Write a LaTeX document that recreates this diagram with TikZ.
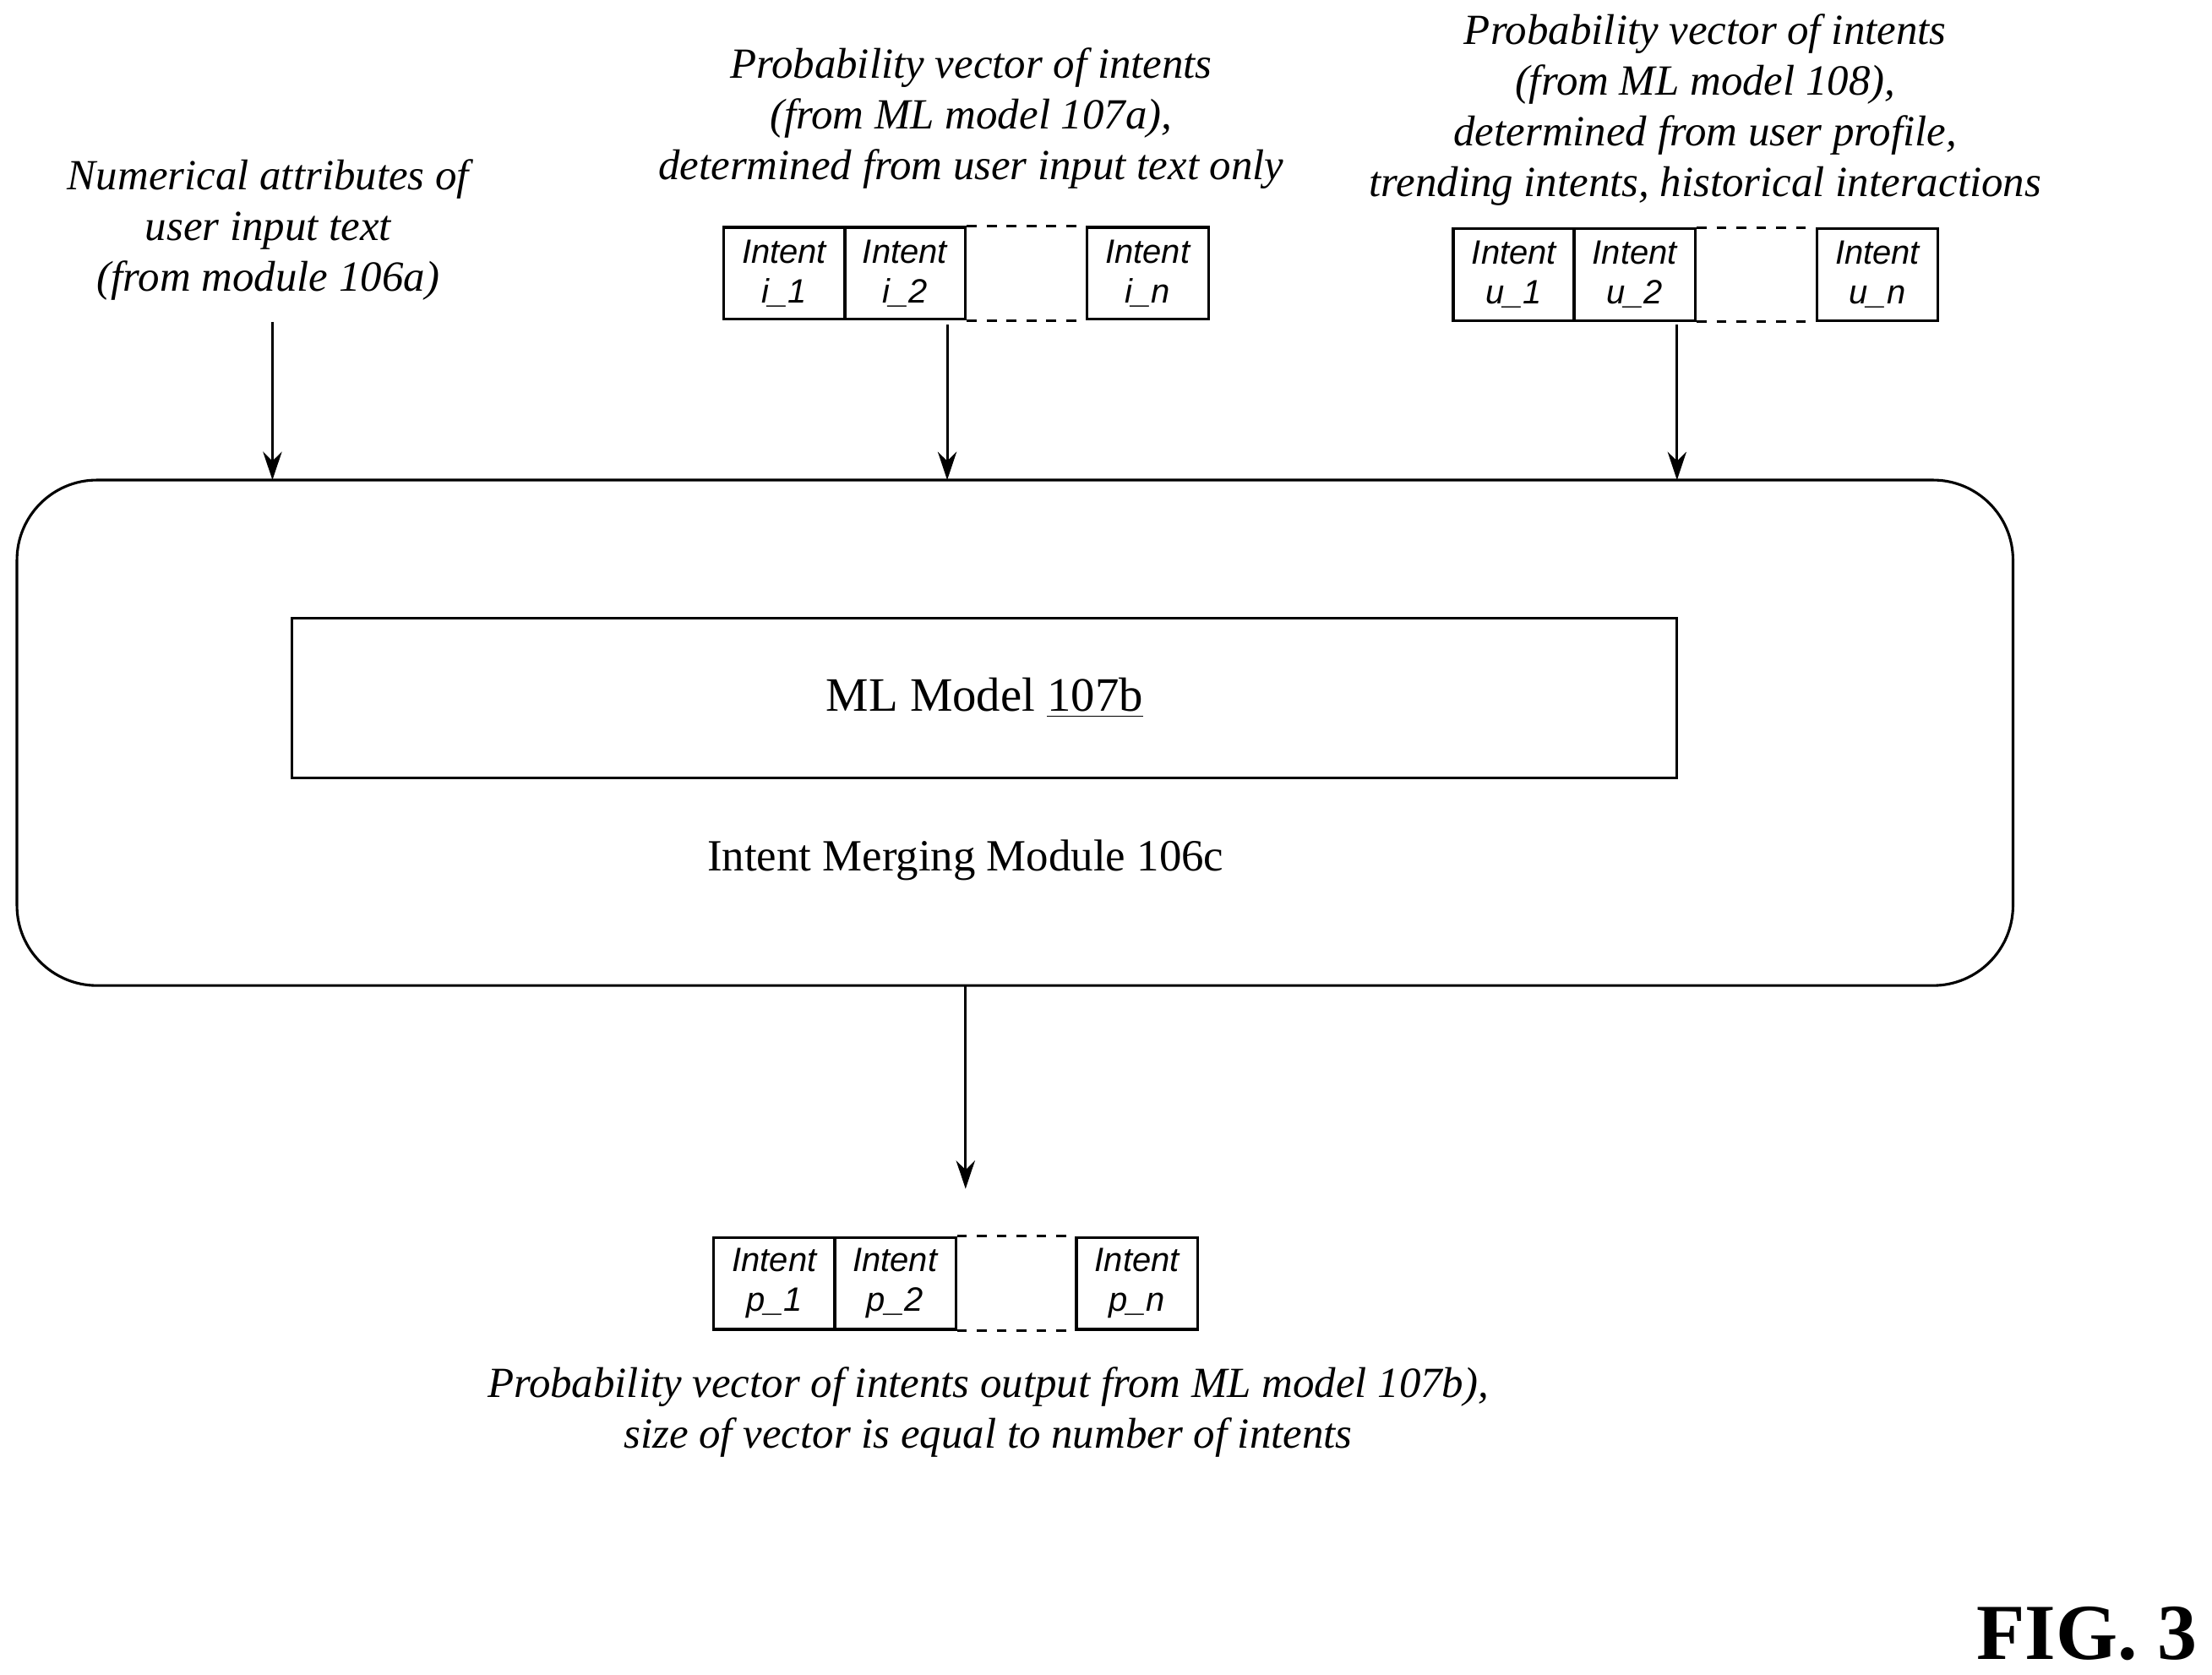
\documentclass[tikz,border=0pt]{standalone}
\usepackage{fontspec}
\setmainfont{Liberation Serif}
\newfontfamily\boxfont{Liberation Sans}
\usetikzlibrary{arrows.meta}
\begin{document}
\begin{tikzpicture}[x=0.15mm,y=-0.15mm,
  lbl/.style={font=\fontsize{13}{15.3}\selectfont\itshape,align=center,inner sep=0},
  cell/.style={draw,line width=0.8pt,minimum width=12.9mm,minimum height=9.75mm,inner sep=0,align=center,font=\boxfont\fontsize{10.2}{12}\selectfont\itshape},
  arr/.style={line width=0.8pt,-{Stealth[length=3mm,width=2mm]}},
  dsh/.style={dashed,line width=0.8pt}]
\useasboundingbox (0,0) rectangle (1567,1186);
% labels
\node[lbl] (l1) at (190,163) {Numerical attributes of\\user input text\\(from module 106a)};
\node[lbl] (l2) at (688,84) {Probability vector of intents\\(from ML model 107a),\\determined from user input text only};
\node[lbl] (l3) at (1208,78) {Probability vector of intents\\(from ML model 108),\\determined from user profile,\\trending intents, historical interactions};
% vector i
\node[cell] (i1) at (555.5,193.5) {Intent\\i\_1};
\node[cell] (i2) at (641,193.5) {Intent\\i\_2};
\node[cell] (in) at (813,193.5) {Intent\\i\_n};
\draw[dsh] (i2.north east) -- (in.north west) (i2.south east) -- (in.south west);
% vector u
\node[cell] (u1) at (1072.5,194.5) {Intent\\u\_1};
\node[cell] (u2) at (1158,194.5) {Intent\\u\_2};
\node[cell] (un) at (1330,194.5) {Intent\\u\_n};
\draw[dsh] (u2.north east) -- (un.north west) (u2.south east) -- (un.south west);
% module
\draw[line width=0.8pt,rounded corners=8.5mm] (12,340) rectangle (1426,698);
\coordinate (mtop1) at (193,340);
\coordinate (mtop2) at (671,340);
\coordinate (mtop3) at (1188,340);
\coordinate (mbot) at (684,698);
\node[draw,line width=0.8pt,minimum width=147.15mm,minimum height=16.95mm,font=\fontsize{14.5}{18}\selectfont] (ml) at (697.5,494.5) {ML Model \underline{107b}};
\node[font=\fontsize{13.5}{17}\selectfont] (imm) at (684,609) {Intent Merging Module 106c};
\coordinate (a1) at (193,228);
\coordinate (a2) at (671,230);
\coordinate (a3) at (1188,230);
\draw[arr] (a1) -- (mtop1);
\draw[arr] (a2) -- (mtop2);
\draw[arr] (a3) -- (mtop3);
% output
\coordinate (pend) at (684,842);
\draw[arr] (mbot) -- (pend);
\node[cell] (p1) at (548.5,909) {Intent\\p\_1};
\node[cell] (p2) at (634,909) {Intent\\p\_2};
\node[cell] (pn) at (805.5,909) {Intent\\p\_n};
\draw[dsh] (p2.north east) -- (pn.north west) (p2.south east) -- (pn.south west);
\node[lbl] (cap) at (700,1000) {Probability vector of intents output from ML model 107b),\\size of vector is equal to number of intents};
\node[font=\fontsize{24}{28}\selectfont\bfseries,anchor=east,inner sep=0] (fig) at (1557,1157) {FIG. 3};
\end{tikzpicture}
\end{document}
